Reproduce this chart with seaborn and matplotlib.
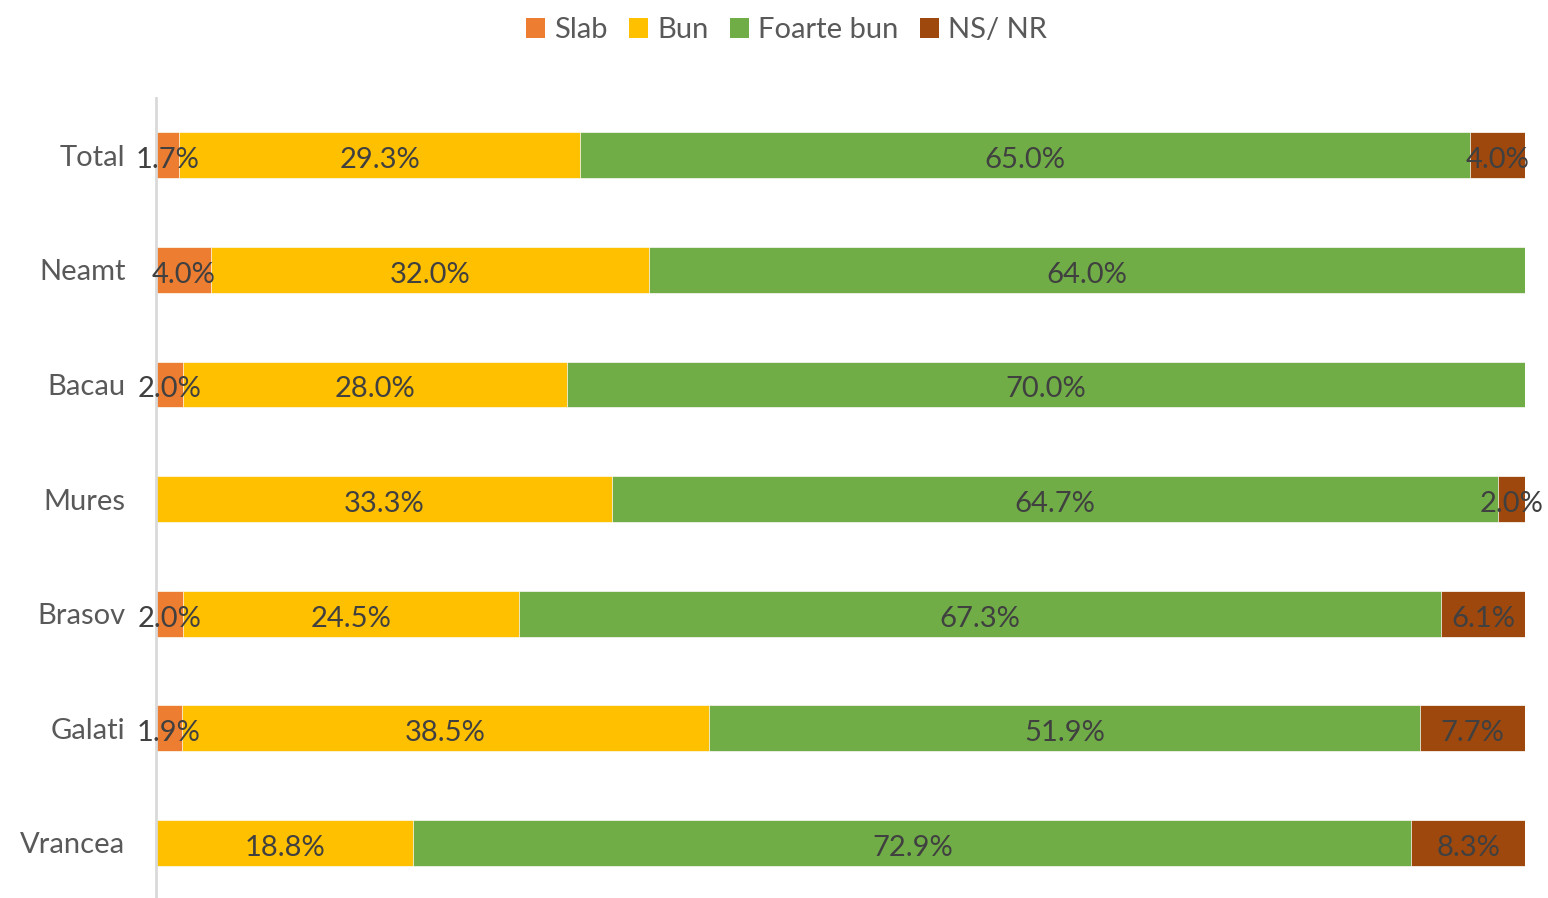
import matplotlib
matplotlib.use("Agg")
import seaborn as sns
import matplotlib.pyplot as plt
from matplotlib.patches import Patch
import pandas as pd
import numpy as np

# data (percent)
regions = ["Total", "Neamt", "Bacau", "Mures", "Brasov", "Galati", "Vrancea"]
series = ["Slab", "Bun", "Foarte bun", "NS/ NR"]
slab = [1.7, 4.0, 2.0, 0.0, 2.0, 1.9, 0.0]
bun = [29.3, 32.0, 28.0, 33.3, 24.5, 38.5, 18.8]
foarte_bun = [65.0, 64.0, 70.0, 64.7, 67.3, 51.9, 72.9]
ns_nr = [4.0, 0.0, 0.0, 2.0, 6.1, 7.7, 8.3]
colors = ["#ED7D31", "#FFC000", "#70AD47", "#9E480E"]

sns.set_theme(style="white")
plt.rcParams["font.family"] = ["Lato", "DejaVu Sans"]

vals = np.array([slab, bun, foarte_bun, ns_nr])
vals = vals / vals.sum(axis=0) * 100  # 100% stacked
cum = vals.cumsum(axis=0)

fig, ax = plt.subplots(figsize=(15.48, 8.98), dpi=100)
fig.subplots_adjust(left=156 / 1548, right=1525 / 1548, top=1 - 98 / 898, bottom=0)

# draw cumulative bars from the outermost segment inwards
for i in range(len(series) - 1, -1, -1):
    df = pd.DataFrame({"region": regions, "value": cum[i]})
    sns.barplot(data=df, x="value", y="region", orient="h", color=colors[i],
                width=0.4, edgecolor="white", linewidth=0.5, saturation=1, ax=ax)

# labels centred in each segment
raw = [slab, bun, foarte_bun, ns_nr]
for i in range(len(series)):
    for j, r in enumerate(regions):
        v = raw[i][j]
        if v <= 0:
            continue
        start = cum[i - 1][j] if i > 0 else 0
        ax.text(start + vals[i][j] / 2, j + 0.02, f"{v:.1f}%", ha="center",
                va="center_baseline", fontsize=21, color="#404040")

ax.set_xlim(0, 100)
ax.set_ylim(6.48, -0.5)
ax.set_xlabel("")
ax.set_ylabel("")
ax.set_xticks([])
for s in ["top", "right", "bottom"]:
    ax.spines[s].set_visible(False)
ax.spines["left"].set_color("#D9D9D9")
ax.spines["left"].set_linewidth(2)
ax.tick_params(axis="y", length=0, pad=22, labelsize=21, labelcolor="#595959")

handles = [Patch(facecolor=c, edgecolor="none") for c in colors]
fig.legend(handles, series, loc="upper center", bbox_to_anchor=(0.508, 1.01), ncol=4,
           frameon=False, fontsize=21, labelcolor="#595959", handlelength=0.65,
           handleheight=0.65, handletextpad=0.3, columnspacing=0.75)

fig.savefig("out.png", dpi=100)
